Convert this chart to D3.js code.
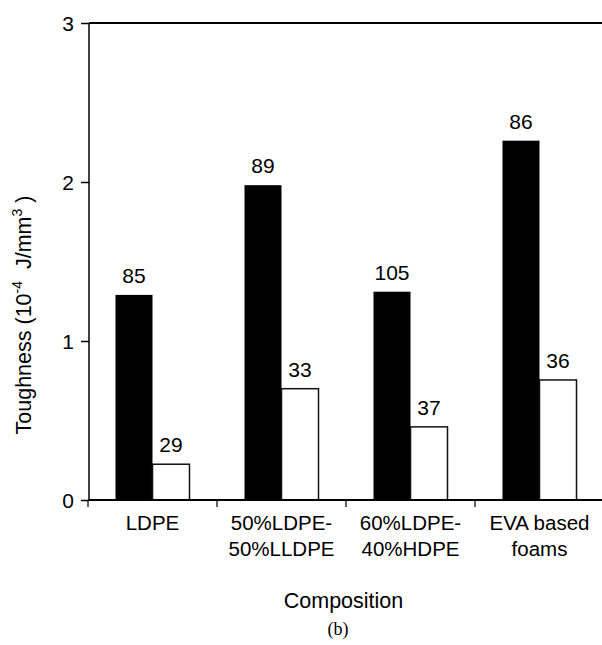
<!DOCTYPE html>
<html>
<head>
<meta charset="utf-8">
<script src="https://cdn.jsdelivr.net/npm/d3@7"></script>
<style>
  body { margin: 0; background: #fff; }
  svg text { font-family: Arial, "Liberation Sans", sans-serif; fill: #000; }
</style>
</head>
<body>
<svg id="chart" width="602" height="645"></svg>
<script>
// data
const categories = ["LDPE", "50%LDPE-\n50%LLDPE", "60%LDPE-\n40%HDPE", "EVA based\nfoams"];
const blackValues = [1.29, 1.98, 1.31, 2.26];
const whiteValues = [0.225, 0.70, 0.46, 0.755];
const blackLabels = ["85", "89", "105", "86"];
const whiteLabels = ["29", "33", "37", "36"];
const yTicks = [0, 1, 2, 3];

const dms = { left: 89, top: 23, right: 604, bottom: 500 };

const svg = d3.select("#chart");

// scales
const xScale = d3.scaleBand()
  .domain(categories)
  .range([88, dms.right])
  .paddingInner(0)
  .paddingOuter(0);

const yScale = d3.scaleLinear()
  .domain([0, 3])
  .range([dms.bottom, dms.top]);

const barWidth = 37;

const rows = categories.map((c, i) => ({
  cat: c,
  black: blackValues[i],
  white: whiteValues[i],
  bl: blackLabels[i],
  wl: whiteLabels[i],
}));

const groups = svg.selectAll(".group")
  .data(rows)
  .enter()
  .append("g")
  .attr("class", "group");

const center = (d) => xScale(d.cat) + xScale.bandwidth() / 2;

// black bars
groups.append("rect")
  .attr("x", (d) => center(d) - barWidth)
  .attr("width", barWidth)
  .attr("y", (d) => yScale(d.black))
  .attr("height", (d) => yScale(0) - yScale(d.black))
  .attr("fill", "#000");

// white bars
groups.append("rect")
  .attr("x", (d) => center(d))
  .attr("width", barWidth)
  .attr("y", (d) => yScale(d.white))
  .attr("height", (d) => yScale(0) - yScale(d.white))
  .attr("fill", "#fff")
  .attr("stroke", "#111")
  .attr("stroke-width", 1.5);

// value labels
groups.append("text")
  .attr("x", (d) => center(d) - barWidth / 2)
  .attr("y", (d) => yScale(d.black) - 12)
  .attr("text-anchor", "middle")
  .style("font-size", "21px")
  .text((d) => d.bl);

groups.append("text")
  .attr("x", (d) => center(d) + barWidth / 2)
  .attr("y", (d) => yScale(d.white) - 12)
  .attr("text-anchor", "middle")
  .style("font-size", "21px")
  .text((d) => d.wl);

// y axis
const yAxis = svg.append("g")
  .attr("transform", `translate(${dms.left},0)`)
  .call(d3.axisLeft(yScale).tickValues(yTicks).tickSize(8).tickPadding(7).tickFormat(d3.format("d")));
yAxis.select(".domain").attr("stroke-width", 1.5).attr("d", `M0,${dms.top}V${dms.bottom}`);
yAxis.selectAll(".tick line").attr("stroke-width", 1.5);
yAxis.selectAll(".tick text").style("font-size", "21px").attr("dy", "0.36em");

// top frame line
svg.append("line")
  .attr("x1", dms.left)
  .attr("x2", 602)
  .attr("y1", yScale(3))
  .attr("y2", yScale(3))
  .attr("stroke", "#000")
  .attr("stroke-width", 2);

// x axis with ticks at the category boundaries
const xAxis = svg.append("g").attr("transform", `translate(0,${dms.bottom})`);
xAxis.append("line")
  .attr("x1", dms.left)
  .attr("x2", 602)
  .attr("stroke", "#000")
  .attr("stroke-width", 2);
xAxis.selectAll(".xtick")
  .data(categories)
  .enter()
  .append("line")
  .attr("x1", (d) => xScale(d))
  .attr("x2", (d) => xScale(d))
  .attr("y1", 0)
  .attr("y2", 7)
  .attr("stroke", "#000")
  .attr("stroke-width", 1.2);

const xLabels = xAxis.selectAll(".xlabel")
  .data(categories)
  .enter()
  .append("text")
  .attr("text-anchor", "middle")
  .style("font-size", "20.5px");
xLabels.selectAll("tspan")
  .data((d) => d.split("\n").map((t) => ({ t, c: d })))
  .enter()
  .append("tspan")
  .attr("x", (d) => xScale(d.c) + xScale.bandwidth() / 2)
  .attr("y", (d, i) => 30 + i * 26)
  .text((d) => d.t);

// axis titles
svg.append("text")
  .attr("x", (dms.left + 602) / 2 - 2)
  .attr("y", 608)
  .attr("text-anchor", "middle")
  .style("font-size", "21.5px")
  .text("Composition");

const yTitle = svg.append("text")
  .attr("transform", "translate(31,315) rotate(-90)")
  .attr("text-anchor", "middle")
  .style("font-size", "21.5px");
yTitle.append("tspan").text("Toughness (10");
yTitle.append("tspan").style("font-size", "14px").attr("dy", -9).text("-4");
yTitle.append("tspan").attr("dy", 9).text("\u00a0 J/mm");
yTitle.append("tspan").style("font-size", "14px").attr("dy", -9).text("3");
yTitle.append("tspan").attr("dy", 9).text("\u00a0)");

svg.append("text")
  .attr("x", 338)
  .attr("y", 635)
  .attr("text-anchor", "middle")
  .style("font-family", "'Liberation Serif', 'Times New Roman', serif")
  .style("font-size", "18px")
  .text("(b)");
</script>
</body>
</html>
